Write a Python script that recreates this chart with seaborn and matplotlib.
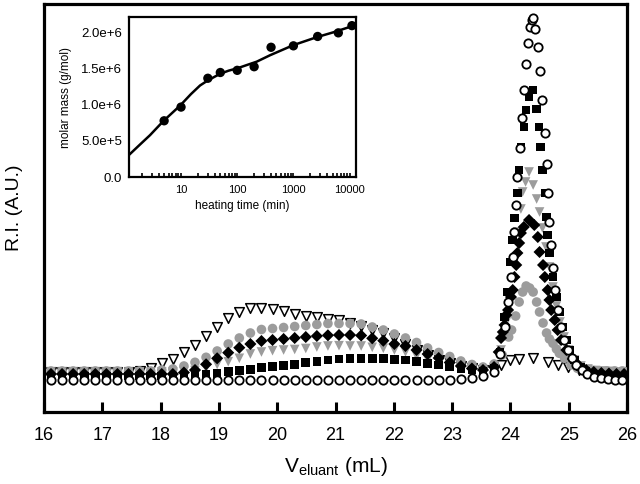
import numpy as np
import matplotlib
matplotlib.use("Agg")
import matplotlib.pyplot as plt
import seaborn as sns

sns.set_style("ticks")
plt.rcParams["font.family"] = ["Liberation Sans", "DejaVu Sans"]
plt.rcParams["mathtext.fontset"] = "custom"
plt.rcParams["mathtext.rm"] = "Liberation Sans"
plt.rcParams["mathtext.it"] = "Liberation Sans"
for k in ["axes.edgecolor", "xtick.color", "ytick.color", "text.color", "axes.labelcolor"]:
    plt.rcParams[k] = "black"

# eluant volume grid shared by all traces (baseline + broad hump)
v_grid = [16.12, 16.31, 16.50, 16.69, 16.88, 17.07, 17.26, 17.45, 17.64, 17.83,
          18.02, 18.21, 18.40, 18.59, 18.78, 18.97, 19.16, 19.35, 19.54, 19.73,
          19.92, 20.11, 20.30, 20.49, 20.68, 20.87, 21.06, 21.25, 21.44, 21.63,
          21.82, 22.01, 22.20, 22.39, 22.58, 22.77, 22.96, 23.15, 23.34, 23.53]

# R.I. signal (A.U.) on v_grid
ri_circ_open = [32] * 37 + [33, 34, 36]
ri_square = [36] * 13 + [36.5, 37.5, 38.7, 40.3, 41.3, 42.7, 44.3, 45.3, 46.3, 47.7,
                         49.3, 50.3, 52, 53, 53.7, 53.7, 53.7, 53.5, 52.7, 52, 50.5,
                         48.5, 47, 45.3, 43.7, 42, 40.3]
ri_circ_gray = [41] * 10 + [42, 43, 46, 49.7, 54.7, 61, 68, 74, 79, 82.5, 83.5, 84.5,
                            85.5, 86.5, 87.5, 88.5, 88.5, 88.5, 88, 85, 82, 78, 74,
                            69.5, 64, 59.5, 55.5, 51, 47.5, 45]
ri_diamond = [38] * 12 + [39.5, 42, 47.7, 53.7, 59.3, 64.3, 68, 71, 72, 73, 74, 75,
                          76, 76.7, 77, 77, 76.5, 73.7, 71.3, 68, 66, 62, 58, 54,
                          49.5, 46, 43.5, 42]
ri_tri_gray = [40] * 12 + [40.5, 41.5, 44, 47.5, 50.3, 53.7, 58, 60, 61.3, 62, 62.5,
                           63.5, 65, 66, 66.3, 66, 66, 64.7, 63.7, 62, 60, 56, 52.5,
                           49.5, 46.5, 44, 42, 40.5]
ri_tri_open = [40] * 8 + [41.5, 43.7, 48.7, 52.7, 60, 67.5, 76.5, 85.5, 94.5, 100.5,
                          103.7, 104.5, 103, 101, 98.5, 96.5, 95, 93.5, 92, 89.5, 86,
                          82, 79, 74, 68, 62, 57, 52.5, 49, 46, 44, 42.5]

# sharp peak region, each trace read separately
pk_circ_open_v = [23.72, 23.82, 23.90, 23.96, 24.01, 24.04, 24.07, 24.10, 24.12, 24.16,
                  24.20, 24.23, 24.26, 24.30, 24.34, 24.37, 24.39, 24.42, 24.47, 24.50,
                  24.55, 24.59, 24.62, 24.64, 24.67, 24.70, 24.73, 24.77, 24.81, 24.86,
                  24.92, 24.98, 25.05, 25.13, 25.22, 25.32, 25.43, 25.55, 25.67, 25.79,
                  25.91]
pk_circ_open_ri = [40, 58, 85, 110, 135, 155, 180, 207, 235, 264, 294, 322, 348, 369,
                   385, 392, 394, 383, 365, 341, 312, 279, 248, 219, 190, 167, 144, 122,
                   102, 85, 72, 62, 54, 47, 42, 38, 35.5, 34, 33, 32.5, 32]

pk_square_v = [23.72, 23.82, 23.90, 23.95, 24.00, 24.04, 24.07, 24.12, 24.15, 24.18,
               24.23, 24.27, 24.32, 24.39, 24.45, 24.49, 24.52, 24.55, 24.59, 24.62,
               24.64, 24.67, 24.73, 24.79, 24.84, 24.90, 24.96, 25.02, 25.10, 25.20,
               25.30, 25.42, 25.54, 25.66, 25.78, 25.90]
pk_square_ri = [44, 60, 95, 120, 150, 172, 194, 219, 242, 265, 285, 302, 315, 322, 303,
                285, 265, 242, 219, 195, 177, 159, 135, 115, 100, 85, 72, 62, 52, 45,
                41, 38, 37, 36, 35.5, 35]

pk_circ_gray_v = [23.72, 23.86, 23.97, 24.02, 24.09, 24.15, 24.21, 24.27, 24.33, 24.39,
                  24.45, 24.50, 24.56, 24.62, 24.67, 24.73, 24.79, 24.84, 24.93, 25.04,
                  25.15, 25.27, 25.40, 25.53, 25.66, 25.79, 25.92]
pk_circ_gray_ri = [48, 57, 75, 82, 96, 110, 120, 126, 124, 120, 110, 100, 89, 79, 73,
                   68.7, 63, 58.7, 53.7, 47, 43.7, 42, 41.5, 41, 41, 41, 41]

pk_diamond_v = [23.72, 23.80, 23.84, 23.87, 23.90, 23.93, 23.96, 24.01, 24.04, 24.07,
                24.10, 24.12, 24.15, 24.18, 24.23, 24.32, 24.41, 24.47, 24.50, 24.56,
                24.59, 24.64, 24.67, 24.70, 24.76, 24.81, 24.87, 24.96, 25.07, 25.18,
                25.30, 25.43, 25.56, 25.69, 25.82, 25.95]
pk_diamond_ri = [45, 60, 74, 80, 87, 97, 102, 115, 122, 135, 147, 159, 169, 179, 185,
                 192, 187, 175, 160, 147, 135, 122, 112, 102, 92, 82, 72, 62, 53, 46,
                 42, 40, 39, 38.5, 38, 38]

pk_tri_gray_v = [23.72, 23.84, 23.93, 24.00, 24.06, 24.12, 24.18, 24.21, 24.26, 24.32,
                 24.39, 24.45, 24.50, 24.55, 24.61, 24.67, 24.73, 24.79, 24.85, 24.92,
                 25.00, 25.10, 25.21, 25.33, 25.46, 25.59, 25.72, 25.85, 25.97]
pk_tri_gray_ri = [44, 62, 90, 118, 150, 180, 203, 220, 230, 240, 227, 213, 200, 184,
                  165, 145, 125, 106, 90, 75, 62, 52, 46, 43, 41.5, 41, 40.5, 40, 40]

pk_tri_open_v = [23.72, 23.84, 23.99, 24.15, 24.39, 24.64, 24.81, 24.99, 25.18, 25.37,
                 25.56, 25.75, 25.94]
pk_tri_open_ri = [42, 47, 52, 53, 53.7, 50.3, 47, 44.7, 42, 41, 40.5, 40, 40]

# inset: molar mass vs heating time
heat_t = [5, 10, 30, 50, 100, 200, 400, 1000, 2700, 6300, 11000]
molar_mass = [0.78e6, 0.97e6, 1.37e6, 1.45e6, 1.48e6, 1.53e6, 1.80e6, 1.82e6,
              1.95e6, 2.00e6, 2.10e6]
fit_t = [1.2, 1.8, 2.8, 4.9, 9.6, 15, 21.8, 30, 49, 70, 102, 150, 222, 385, 600,
         1000, 2600, 5000, 13000]
fit_mass = [0.31e6, 0.44e6, 0.58e6, 0.78e6, 0.99e6, 1.15e6, 1.27e6, 1.34e6, 1.43e6,
            1.475e6, 1.51e6, 1.555e6, 1.60e6, 1.69e6, 1.755e6, 1.83e6, 1.94e6,
            2.005e6, 2.11e6]

fig = plt.figure(figsize=(6.4, 4.84), dpi=100)
ax = fig.add_axes([44 / 640, 72 / 484, 583 / 640, 408 / 484])

def trace(v_pk, ri_grid, ri_pk, **kw):
    v = list(v_grid) + list(v_pk)
    ri = list(ri_grid) + list(ri_pk)
    sns.scatterplot(x=v, y=ri, ax=ax, legend=False, **kw)

trace(pk_tri_open_v, ri_tri_open, pk_tri_open_ri, marker="v", s=48,
      facecolor="white", edgecolor="black", linewidth=1.1, zorder=2)
trace(pk_circ_gray_v, ri_circ_gray, pk_circ_gray_ri, marker="o", s=48,
      color="#9c9c9c", edgecolor="none", zorder=3)
trace(pk_tri_gray_v, ri_tri_gray, pk_tri_gray_ri, marker="v", s=48,
      color="#9c9c9c", edgecolor="none", zorder=4)
trace(pk_square_v, ri_square, pk_square_ri, marker="s", s=38,
      color="black", edgecolor="none", zorder=5)
trace(pk_diamond_v, ri_diamond, pk_diamond_ri, marker="D", s=38,
      color="black", edgecolor="none", zorder=6)
trace(pk_circ_open_v, ri_circ_open, pk_circ_open_ri, marker="o", s=36,
      facecolor="white", edgecolor="black", linewidth=1.3, zorder=7)

ax.set_xlim(16, 26)
ax.set_ylim(0, 408)
ax.set_xticks(range(16, 27))
ax.set_yticks([])
ax.tick_params(axis="x", direction="in", length=7, width=2.2, labelsize=13, pad=11)
for sp in ax.spines.values():
    sp.set_linewidth(2.3)
ax.set_xlabel(r"V$_{\mathrm{eluant}}$ (mL)", fontsize=15, labelpad=8)
ax.set_ylabel("R.I. (A.U.)", fontsize=14, labelpad=15)

# inset
axin = fig.add_axes([129.3 / 640, (484 - 177) / 484, (356 - 129.3) / 640, 160 / 484])
axin.set_xscale("log")
sns.lineplot(x=fit_t, y=fit_mass, ax=axin, color="black", linewidth=1.8)
sns.scatterplot(x=heat_t, y=molar_mass, ax=axin, color="black", s=45,
                edgecolor="none", zorder=5, legend=False)
axin.set_xlim(1.2, 13000)
axin.set_ylim(0, 2.22e6)
axin.set_xticks([10, 100, 1000, 10000])
axin.set_xticklabels(["10", "100", "1000", "10000"])
axin.set_yticks([0, 5e5, 1e6, 1.5e6, 2e6])
axin.set_yticklabels(["0.0", "5.0e+5", "1.0e+6", "1.5e+6", "2.0e+6"])
axin.tick_params(which="both", direction="in", length=3, width=1.2, pad=6)
axin.tick_params(axis="x", labelsize=8)
axin.tick_params(axis="y", length=0, labelsize=9.5, pad=5)
for sp in axin.spines.values():
    sp.set_linewidth(1.6)
axin.set_xlabel("heating time (min)", fontsize=8.5, labelpad=3)
axin.set_ylabel("molar mass (g/mol)", fontsize=8.5, labelpad=7)

fig.savefig("out.png", dpi=100)
